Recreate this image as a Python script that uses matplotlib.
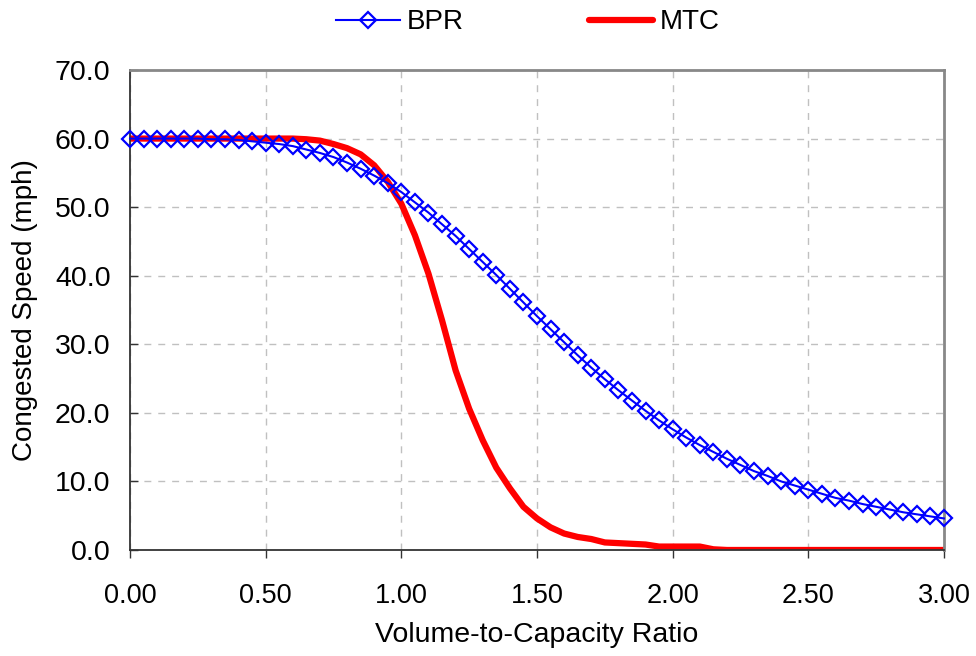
import matplotlib
matplotlib.use("Agg")
import matplotlib.pyplot as plt

plt.rcParams['font.family'] = ['Liberation Sans', 'DejaVu Sans']

# volume-to-capacity ratio, 0.00 .. 3.00 in steps of 0.05
vc = [round(i * 0.05, 2) for i in range(61)]

bpr = [60.0, 60.0, 60.0, 60.0, 60.0, 60.0, 59.9, 59.9, 59.8, 59.6,
       59.4, 59.2, 58.9, 58.4, 57.9, 57.3, 56.5, 55.6, 54.6, 53.5,
       52.2, 50.7, 49.2, 47.5, 45.8, 43.9, 42.0, 40.1, 38.1, 36.1,
       34.1, 32.2, 30.3, 28.4, 26.6, 24.9, 23.3, 21.8, 20.3, 18.9,
       17.6, 16.4, 15.3, 14.3, 13.3, 12.4, 11.5, 10.8, 10.0, 9.4,
       8.8, 8.2, 7.6, 7.2, 6.7, 6.3, 5.9, 5.5, 5.2, 4.9,
       4.6]

mtc = [60.0, 60.0, 60.0, 60.0, 60.0, 60.0, 60.0, 60.0, 60.0, 60.0,
       60.0, 60.0, 60.0, 59.9, 59.7, 59.2, 58.6, 57.7, 56.1, 53.7,
       50.5, 45.9, 40.3, 33.5, 26.2, 20.6, 16.0, 12.0, 9.0, 6.3,
       4.6, 3.3, 2.4, 1.9, 1.6, 1.1, 1.0, 0.9, 0.8, 0.5,
       0.5, 0.5, 0.5, 0.1, 0.0, 0.0, 0.0, 0.0, 0.0, 0.0,
       0.0, 0.0, 0.0, 0.0, 0.0, 0.0, 0.0, 0.0, 0.0, 0.0,
       0.0]

x_ticks = [0.0, 0.5, 1.0, 1.5, 2.0, 2.5, 3.0]
y_ticks = [0, 10, 20, 30, 40, 50, 60, 70]

fig = plt.figure(figsize=(9.76, 6.56), dpi=100)
ax = fig.add_axes([0.1332, 0.1616, 0.834, 0.7317])

ax.plot(vc, mtc, color='#ff0000', lw=4.5, solid_capstyle='round',
        label='MTC', zorder=2)
ax.plot(vc, bpr, color='#0000ff', lw=1.5, marker='D', markersize=8.5,
        markerfacecolor='none', markeredgecolor='#0000ff',
        markeredgewidth=1.6, label='BPR', zorder=3, clip_on=False)

ax.set_xlim(0, 3.0)
ax.set_ylim(0, 70)
ax.set_xticks(x_ticks)
ax.set_yticks(y_ticks)
ax.set_xticklabels([f"{t:.2f}" for t in x_ticks])
ax.set_yticklabels([f"{t:.1f}" for t in y_ticks])

ax.grid(True, color='#c0c0c0', linestyle=(0, (5, 5)), lw=1)
ax.set_axisbelow(True)

for side in ['left', 'bottom']:
    ax.spines[side].set_color('#333333')
    ax.spines[side].set_linewidth(1.3)
for side in ['top', 'right']:
    ax.spines[side].set_color('#888888')
    ax.spines[side].set_linewidth(2)

ax.tick_params(axis='x', direction='out', length=6, width=1,
               color='#333333', labelsize=19.5, pad=18)
ax.tick_params(axis='y', direction='in', length=6, width=1,
               color='#333333', labelsize=20.5, pad=14)

ax.set_xlabel("Volume-to-Capacity Ratio", fontsize=20.5, labelpad=9)
ax.set_ylabel("Congested Speed (mph)", fontsize=20, labelpad=12)

handles, labels = ax.get_legend_handles_labels()
fig.legend(handles[::-1], labels[::-1], loc='center', ncol=2,
           bbox_to_anchor=(0.541, 0.966), frameon=False, fontsize=20,
           handlelength=2.3, handletextpad=0.25, columnspacing=4.5)

fig.savefig("out.png", dpi=100)
